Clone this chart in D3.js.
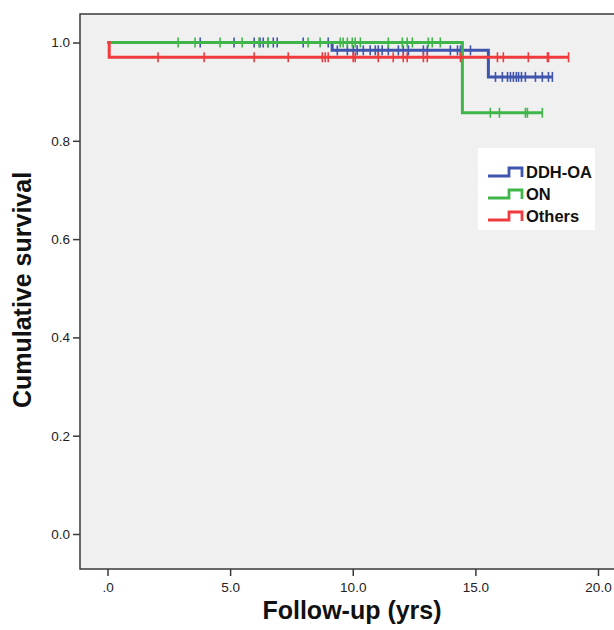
<!DOCTYPE html>
<html>
<head>
<meta charset="utf-8">
<script src="https://cdn.jsdelivr.net/npm/d3@7"></script>
<style>
  body { margin: 0; background: #fff; }
  svg { display: block; font-family: "Liberation Sans", Arial, sans-serif; }
</style>
</head>
<body>
<div id="chart"></div>
<script>
// Kaplan-Meier data
const groups = ["DDH-OA", "ON", "Others"]
const colors = ["#3f55ad", "#40b54a", "#ef3b3d"]

// step points: [time, survival]
const ddhSteps = [[0, 1.0], [9.16, 0.984], [15.53, 0.93], [18.14, 0.93]]
const onSteps = [[0, 1.0], [14.47, 0.857], [17.73, 0.857]]
const otherSteps = [[0, 1.0], [0.07, 0.97], [18.8, 0.97]]

// censored times
const ddhCensored = [3.78, 5.16, 5.98, 6.22, 6.35, 6.55, 6.76, 6.92, 7.98, 9.0,
    9.37, 9.78, 10.02, 10.18, 10.43, 10.71, 10.92, 11.04, 11.2, 11.45, 11.86, 12.06,
    12.27, 12.88, 13.04, 13.98, 14.27, 14.39, 14.8,
    15.82, 16.1, 16.31, 16.43, 16.55, 16.67, 16.76, 16.88, 17.04, 17.45, 17.73, 17.98, 18.14]
const onCensored = [2.88, 3.57, 4.59, 5.49, 6.18, 6.55, 8.18, 8.67, 9.49, 9.61, 9.78,
    9.98, 10.1, 10.31, 11.45, 12.02, 12.22, 12.43, 13.08, 13.24, 13.57,
    15.61, 15.98, 17.04, 17.12, 17.73]
const otherCensored = [2.06, 3.94, 5.98, 7.37, 8.76, 8.88, 9.0, 10.02, 10.1, 11.04,
    11.65, 12.06, 12.22, 12.88, 13.04, 14.39, 15.9, 16.14, 17.16, 17.94, 17.98, 18.8]

const xTicks = [0, 5, 10, 15, 20]
const xTickLabels = [".0", "5.0", "10.0", "15.0", "20.0"]
const yTicks = [0, 0.2, 0.4, 0.6, 0.8, 1.0]

const series = [
    {name: groups[0], steps: ddhSteps, censored: ddhCensored, color: colors[0]},
    {name: groups[1], steps: onSteps, censored: onCensored, color: colors[1]},
    {name: groups[2], steps: otherSteps, censored: otherCensored, color: colors[2]}
]

const W = 614, H = 630
const frame = {left: 80, top: 14, right: 620, bottom: 569}

const svg = d3.select("#chart")
    .append("svg")
    .attr("width", W)
    .attr("height", H)

const x = d3.scaleLinear().domain([0, 20]).range([107.5, 598])
const y = d3.scaleLinear().domain([0, 1]).range([534, 42.5])

// plot area
svg.append("rect")
    .attr("x", frame.left)
    .attr("y", frame.top)
    .attr("width", frame.right - frame.left)
    .attr("height", frame.bottom - frame.top)
    .attr("fill", "#f0f0f0")
    .attr("stroke", "#3a3a3a")
    .attr("stroke-width", 1.5)

// y axis
const yAxis = d3.axisLeft(y)
    .tickValues(yTicks)
    .tickFormat(d3.format(".1f"))
    .tickSize(7)
    .tickPadding(3)

const gy = svg.append("g")
    .attr("transform", `translate(${frame.left},0)`)
    .call(yAxis)
gy.select(".domain").remove()
gy.selectAll(".tick line").attr("stroke", "#3a3a3a").attr("stroke-width", 1.5)
gy.selectAll(".tick text")
    .attr("fill", "#222")
    .style("font-size", "13.5px")

// x axis
const xAxis = d3.axisBottom(x)
    .tickValues(xTicks)
    .tickFormat((d, i) => xTickLabels[i])
    .tickSize(7)
    .tickPadding(6)

const gx = svg.append("g")
    .attr("transform", `translate(0,${frame.bottom})`)
    .call(xAxis)
gx.select(".domain").remove()
gx.selectAll(".tick line").attr("stroke", "#3a3a3a").attr("stroke-width", 1.5)
gx.selectAll(".tick text")
    .attr("fill", "#222")
    .style("font-size", "13.5px")

// axis titles
svg.append("text")
    .attr("x", 352)
    .attr("y", 619)
    .attr("text-anchor", "middle")
    .style("font-size", "25px")
    .style("font-weight", "bold")
    .attr("fill", "#111")
    .text("Follow-up (yrs)")

svg.append("text")
    .attr("transform", "translate(31,290) rotate(-90)")
    .attr("text-anchor", "middle")
    .style("font-size", "25px")
    .style("font-weight", "bold")
    .attr("fill", "#111")
    .text("Cumulative survival")

// survival curves
const line = d3.line()
    .x(d => x(d[0]))
    .y(d => y(d[1]))
    .curve(d3.curveStepAfter)

function survivalAt(steps, t) {
    let s = steps[0][1]
    for (const p of steps) {
        if (p[0] <= t) s = p[1]
    }
    return s
}

for (const s of series) {
    svg.append("path")
        .datum(s.steps)
        .attr("d", line)
        .attr("fill", "none")
        .attr("stroke", s.color)
        .attr("stroke-width", 3)

    svg.append("g")
        .selectAll("line")
        .data(s.censored)
        .enter()
        .append("line")
        .attr("x1", d => x(d))
        .attr("x2", d => x(d))
        .attr("y1", d => y(survivalAt(s.steps, d)) - 5)
        .attr("y2", d => y(survivalAt(s.steps, d)) + 5)
        .attr("stroke", s.color)
        .attr("stroke-width", 1.6)
}

// legend
svg.append("rect")
    .attr("x", 478)
    .attr("y", 148)
    .attr("width", 117)
    .attr("height", 82)
    .attr("fill", "#fff")
const legend = svg.append("g")

series.forEach((s, i) => {
    const ly = 176 + i * 22
    legend.append("path")
        .attr("d", `M488,${ly} H509 V${ly - 8} H522 V${ly + 1}`)
        .attr("fill", "none")
        .attr("stroke", s.color)
        .attr("stroke-width", 2.8)
    legend.append("text")
        .attr("x", 526)
        .attr("y", ly + 2)
        .style("font-size", "16.5px")
        .style("font-weight", "bold")
        .attr("fill", "#111")
        .text(s.name)
})
</script>
</body>
</html>
